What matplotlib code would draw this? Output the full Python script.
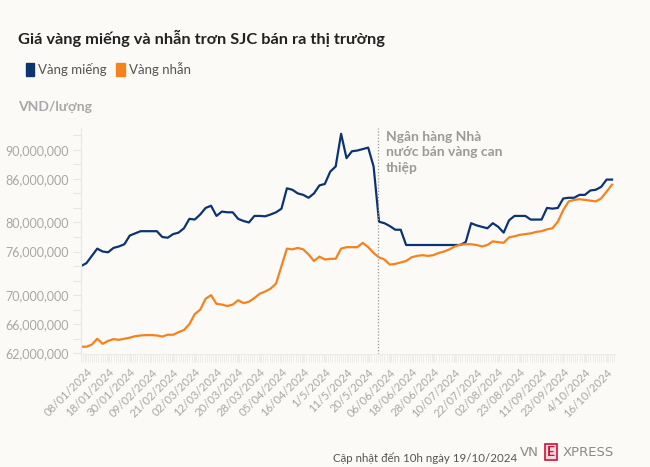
import matplotlib
matplotlib.use('Agg')
import matplotlib.pyplot as plt
from matplotlib.patches import Patch
from matplotlib.ticker import FixedLocator, FuncFormatter, MultipleLocator

plt.rcParams['font.family'] = ['Lato', 'DejaVu Sans']

# gia ban ra, trieu dong / luong (doc tu bieu do)
vang_mieng = [
    74.0, 74.4, 75.4, 76.4, 76.0, 75.9, 76.5, 76.7, 77.0, 78.2,
    78.5, 78.8, 78.8, 78.8, 78.8, 78.0, 77.9, 78.4, 78.6, 79.2,
    80.5, 80.4, 81.1, 82.0, 82.3, 80.9, 81.5, 81.4, 81.4, 80.5,
    80.2, 80.0, 80.9, 80.9, 80.85, 81.1, 81.4, 81.9, 84.7, 84.5,
    84.0, 83.8, 83.4, 84.0, 85.1, 85.3, 87.0, 87.7, 92.2, 88.85,
    89.8, 89.9, 90.1, 90.3, 87.7, 80.1, 79.9, 79.5, 79.0, 79.0,
    76.9, 76.9, 76.9, 76.9, 76.9, 76.9, 76.9, 76.9, 76.9, 76.9,
    76.9, 77.3, 79.9, 79.6, 79.4, 79.2, 79.9, 79.4, 78.6, 80.3,
    80.9, 80.9, 80.9, 80.4, 80.4, 80.4, 82.0, 81.9, 82.0, 83.3,
    83.4, 83.4, 83.8, 83.8, 84.4, 84.5, 84.9, 85.9, 85.9,
]
vang_nhan = [
    62.9, 62.9, 63.2, 64.0, 63.3, 63.7, 63.95, 63.85, 64.0, 64.15,
    64.35, 64.45, 64.5, 64.5, 64.45, 64.3, 64.55, 64.55, 64.9, 65.2,
    66.0, 67.4, 68.0, 69.5, 70.0, 68.8, 68.7, 68.5, 68.7, 69.3,
    68.9, 69.1, 69.6, 70.2, 70.5, 70.9, 71.6, 74.0, 76.4, 76.3,
    76.5, 76.3, 75.6, 74.7, 75.3, 74.9, 75.0, 75.0, 76.4, 76.6,
    76.6, 76.6, 77.2, 76.6, 75.8, 75.2, 74.9, 74.2, 74.3, 74.5,
    74.7, 75.2, 75.4, 75.5, 75.4, 75.5, 75.8, 76.0, 76.3, 76.7,
    76.95, 77.0, 77.0, 76.9, 76.7, 76.9, 77.4, 77.3, 77.2, 77.95,
    78.1, 78.3, 78.4, 78.5, 78.7, 78.8, 79.05, 79.2, 80.1, 81.7,
    82.9, 83.1, 83.2, 83.1, 83.0, 82.9, 83.3, 84.25, 85.2,
]
date_labels = [
    '08/01/2024', '18/01/2024', '30/01/2024', '09/02/2024', '21/02/2024',
    '02/03/2024', '12/03/2024', '20/03/2024', '28/03/2024', '05/04/2024',
    '16/04/2024', '1/5/2024', '11/5/2024', '20/5/2024', '06/06/2024',
    '18/06/2024', '28/06/2024', '10/07/2024', '22/07/2024', '02/08/2024',
    '23/08/2024', '11/09/2024', '23/09/2024', '4/10/2024', '16/10/2024',
]
y_labels = [62, 66, 70, 76, 80, 86, 90]
intervention_pos = 54.8

blue = '#0c3471'
orange = '#f5821f'
bg = '#fcfaf7'
grey_txt = '#a8a8a8'

fig = plt.figure(figsize=(6.5, 4.67), dpi=100, facecolor=bg)
ax = fig.add_axes([81 / 650, 1 - 354 / 467, 534 / 650, 226 / 467])
ax.set_facecolor(bg)

x = list(range(len(vang_mieng)))
ax.plot(x, vang_mieng, color=blue, lw=1.6, solid_joinstyle='round')
ax.plot(x, vang_nhan, color=orange, lw=1.6, solid_joinstyle='round')

ax.set_xlim(0, len(x) - 0.45)
ax.set_ylim(61.9, 93.0)

# truc y
ax.yaxis.set_major_locator(FixedLocator(y_labels))
ax.yaxis.set_minor_locator(MultipleLocator(2))
ax.yaxis.set_major_formatter(FuncFormatter(lambda v, p: f'{v * 1e6:,.0f}'))
ax.tick_params(axis='y', which='both', length=6, width=0.8, color='#e6e6e6',
               labelcolor=grey_txt, labelsize=9, pad=3)

# truc x
ax.xaxis.set_major_locator(FixedLocator([1 + 4 * i for i in range(len(date_labels))]))
ax.set_xticklabels(date_labels, rotation=45, ha='right', rotation_mode='anchor')
ax.xaxis.set_minor_locator(MultipleLocator(0.4))
ax.tick_params(axis='x', which='both', length=6, width=0.6, color='#ebebeb',
               labelcolor=grey_txt, labelsize=8.2, pad=3)

for s in ['top', 'right']:
    ax.spines[s].set_visible(False)
ax.spines['left'].set_color('#e6e6e6')
ax.spines['bottom'].set_color('#ececec')

# moc can thiep
ax.axvline(intervention_pos, color='#999999', lw=0.9, ls=(0, (1, 1.5)))
ax.text(intervention_pos + 1.4, 92.6, 'Ngân hàng Nhà\nnước bán vàng can\nthiệp',
        color='#9a9a9a', fontsize=10, fontweight='bold', va='top', ha='left',
        linespacing=1.35)

# tieu de, chu giai
fig.text(18 / 650, 1 - 38 / 467, 'Giá vàng miếng và nhẫn trơn SJC bán ra thị trường',
         fontsize=11.8, fontweight='bold', color='#222222', va='center')
handles = [Patch(facecolor=blue, edgecolor=blue), Patch(facecolor=orange, edgecolor=orange)]
fig.legend(handles, ['Vàng miếng', 'Vàng nhẫn'], loc='center left',
           bbox_to_anchor=(14 / 650, 1 - 69 / 467), ncol=2, frameon=False,
           handlelength=0.65, handleheight=1.1, handletextpad=0.3,
           columnspacing=0.7, fontsize=9.5, labelcolor='#555555')
fig.text(18 / 650, 1 - 107 / 467, 'VND/lượng', fontsize=10, fontweight='bold',
         color=grey_txt, va='center')

# nguon
fig.text(333 / 650, 1 - 458 / 467, 'Cập nhật đến 10h ngày 19/10/2024',
         fontsize=8.3, color='#555555', va='center')
fig.text(520 / 650, 1 - 452 / 467, 'VN', fontsize=9.5, color='#8a8a8a', va='center',
         family='DejaVu Sans')
fig.text(547 / 650, 1 - 452 / 467, 'E', fontsize=10, color='#d0103a', va='center',
         fontweight='bold',
         bbox=dict(boxstyle='square,pad=0.15', fc='#f7d6dc', ec='#d0103a', lw=1.2))
fig.text(563 / 650, 1 - 452 / 467, 'XPRESS', fontsize=9.5, color='#8a8a8a', va='center',
         family='DejaVu Sans')

fig.savefig('out.png', dpi=100, facecolor=bg)
